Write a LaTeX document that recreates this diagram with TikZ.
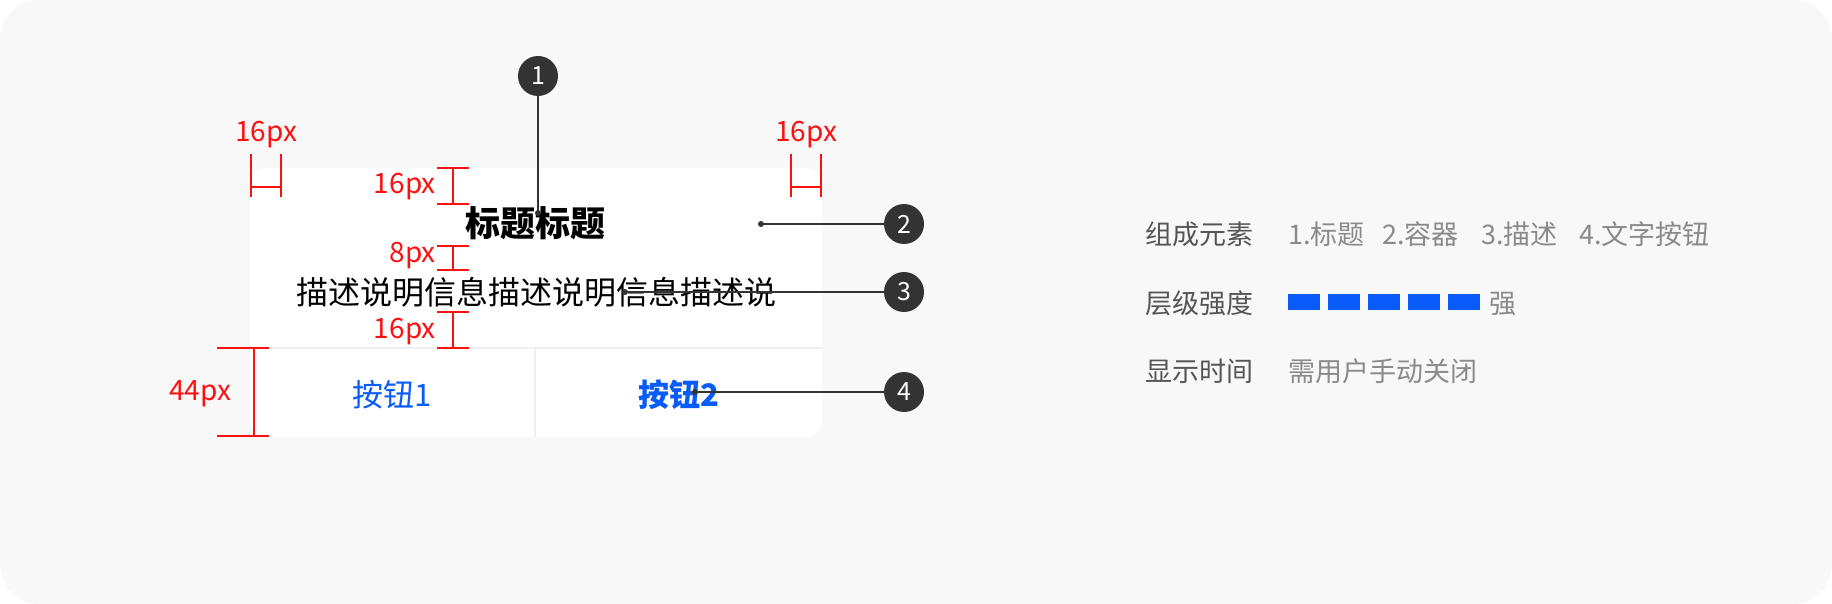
\documentclass[tikz,border=0pt]{standalone}
\usepackage{fontspec}
\setmainfont{Noto Sans CJK SC}
\definecolor{bgray}{HTML}{F8F8F8}
\definecolor{dark}{HTML}{333333}
\definecolor{mred}{HTML}{FF1010}
\definecolor{mblue}{HTML}{0A5CFA}
\definecolor{divline}{HTML}{ECEFF4}
\definecolor{lbl}{HTML}{555555}
\definecolor{val}{HTML}{8A8A8A}
\tikzset{
  fs/.style={font=\fontsize{#1}{#1}\selectfont},
  badge/.style={circle, fill=dark, minimum size=40pt, inner sep=0pt, text=white, fs=25},
  lead/.style={draw=dark, line width=2pt},
  dotmark/.style={fill=dark},
  redtxt/.style={text=mred, fs=28, inner sep=0pt},
  meas/.style={draw=mred, line width=2pt},
  rlabel/.style={text=lbl, fs=27, inner sep=0pt, anchor=base west},
  rvalue/.style={text=val, fs=27, inner sep=0pt, anchor=base west},
  bar/.style={fill=mblue},
}
\begin{document}
\begin{tikzpicture}[x=1pt,y=-1pt]
\useasboundingbox (0,0) rectangle (1832,604);
\fill[white] (0,0) rectangle (1832,604);
\fill[bgray, rounded corners=40pt] (0,0) rectangle (1832,604);
% card
\fill[white, rounded corners=16pt] (250,168) rectangle (822,437);
\draw[divline, line width=2pt] (250,348) -- (822,348);
\draw[divline, line width=2pt] (535,348) -- (535,437);
% texts
\node[fs=35, inner sep=0pt, anchor=base] (title) at (535.5,237) {\bfseries 标题标题};
\node[fs=32, inner sep=0pt, anchor=base] (desc) at (536,304) {描述说明信息描述说明信息描述说};
\node[fs=31, inner sep=0pt, anchor=base, text=mblue] (btn1) at (392,406) {按钮1};
\node[fs=31, inner sep=0pt, anchor=base, text=mblue] (btn2) at (679,406) {\bfseries 按钮2};
% badges
\node[badge] (c1) at (538,76) {1};
\node[badge] (c2) at (904,224) {2};
\node[badge] (c3) at (904,292) {3};
\node[badge] (c4) at (904,392) {4};
\coordinate (d1) at (538,213);
\coordinate (d2) at (761,224);
\coordinate (d3) at (625,292);
\coordinate (d4) at (695,392);
\draw[lead] (c1) -- (d1);
\draw[lead] (c2) -- (d2);
\draw[lead] (c3) -- (d3);
\draw[lead] (c4) -- (d4);
\foreach \d in {d1,d2,d3,d4} \fill[dotmark] (\d) circle (3pt);
% red measures
\draw[meas] (251,154) -- (251,197) (281,154) -- (281,197) (251,187) -- (281,187);
\draw[meas] (791,154) -- (791,197) (821,154) -- (821,197) (791,187) -- (821,187);
\node[redtxt, anchor=base] (m1) at (266,142) {16px};
\node[redtxt, anchor=base] (m2) at (806,142) {16px};
\draw[meas] (437,168) -- (469,168) (437,204) -- (469,204) (453,168) -- (453,204);
\draw[meas] (437,246) -- (469,246) (437,270) -- (469,270) (453,246) -- (453,270);
\draw[meas] (437,312) -- (469,312) (437,348) -- (469,348) (453,312) -- (453,348);
\draw[meas] (217,348) -- (269,348) (217,436) -- (269,436) (254,348) -- (254,436);
\node[redtxt, anchor=base east] (m3) at (436,194) {16px};
\node[redtxt, anchor=base east] (m4) at (436,263) {8px};
\node[redtxt, anchor=base east] (m5) at (436,338) {16px};
\node[redtxt, anchor=base] (m6) at (200,400) {44px};
% right panel
\node[rlabel] (l1) at (1145,244) {组成元素};
\node[rlabel] (l2) at (1145,313) {层级强度};
\node[rlabel] (l3) at (1145,381) {显示时间};
\node[rvalue] (v1) at (1288,244) {1.标题};
\node[rvalue] (v2) at (1382,244) {2.容器};
\node[rvalue] (v3) at (1481,244) {3.描述};
\node[rvalue] (v4) at (1579,244) {4.文字按钮};
\foreach \i in {0,...,4} \fill[bar] (1288.3+\i*40,294.3) rectangle ++(31.7,15.7);
\node[rvalue] (v5) at (1489,313) {强};
\node[rvalue] (v6) at (1288,381) {需用户手动关闭};
\end{tikzpicture}
\end{document}
